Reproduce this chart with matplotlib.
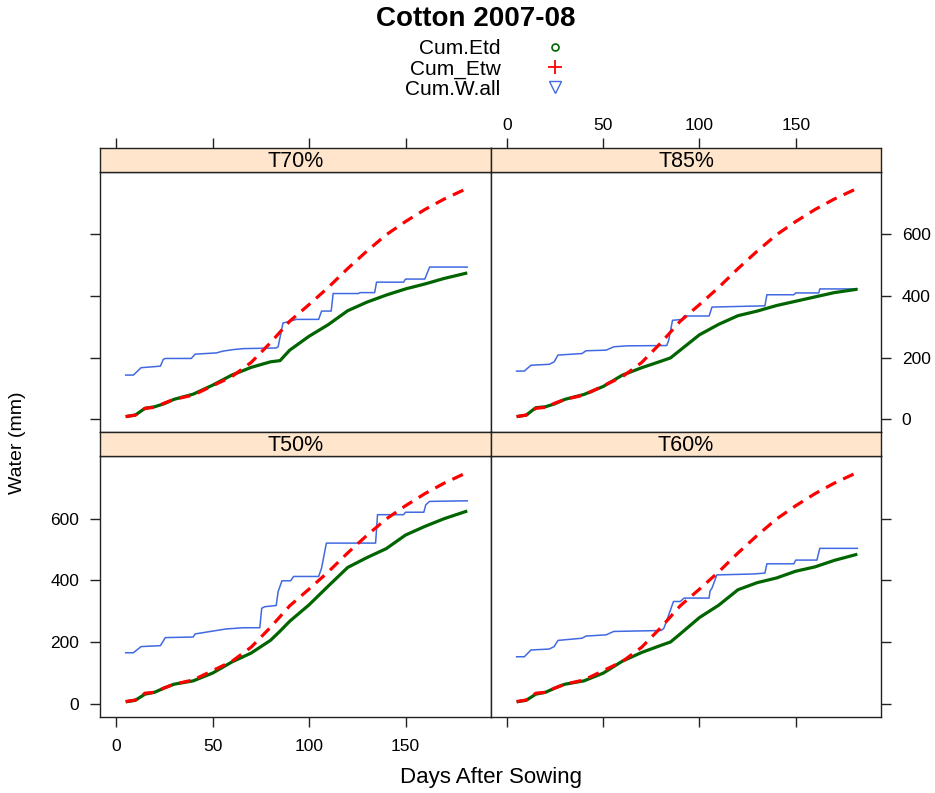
import matplotlib
matplotlib.use("Agg")
import matplotlib.pyplot as plt
from matplotlib.lines import Line2D

# cumulative water for cotton 2007-08, lattice style 2x2 panels, saved to out.png

plt.rcParams["font.family"] = ["Liberation Sans", "DejaVu Sans"]

# days after sowing used for the smooth series
DAYS = [5, 10, 15, 20, 25, 30, 40, 50, 60, 70, 80, 85, 90, 100, 110, 120,
        130, 140, 150, 160, 170, 182]

# Cum_Etw (same in all treatments)
CUM_ETW = [8, 13, 35, 38, 52, 64, 78, 108, 138, 184, 248, 283, 318, 372, 428,
           489, 546, 599, 642, 681, 715, 750]

# Cum.Etd per treatment
ETD_T70 = [8, 13, 35, 40, 50, 64, 81, 110, 143, 168, 186, 190, 224, 269, 307,
           352, 380, 403, 423, 439, 457, 475]
ETD_T85 = [8, 13, 37, 40, 50, 64, 80, 106, 143, 167, 188, 199, 224, 274, 308,
           336, 351, 369, 383, 397, 411, 422]
ETD_T50 = [7, 12, 32, 38, 52, 64, 75, 100, 136, 165, 206, 236, 268, 321, 382,
           442, 474, 503, 547, 575, 600, 625]
ETD_T60 = [7, 12, 32, 38, 52, 64, 75, 100, 139, 167, 190, 201, 227, 280, 320,
           370, 393, 408, 430, 444, 465, 485]

# Cum.W.all (irrigation + rain) per treatment, read at the corners of the steps
WALL_T70_DAYS = [5, 9, 13, 23, 24.5, 25.5, 39, 41, 52, 55.5, 61, 66, 83, 84,
                 86.5, 93.5, 105, 106.5, 111.5, 112.5, 125.5, 126.5, 134, 135,
                 149, 150, 160, 162.5, 182]
WALL_T70 = [143, 143, 167, 172, 194, 197, 197, 211, 215, 221, 226, 229, 231,
            235, 312, 324, 324, 351, 351, 408, 408, 411, 411, 445, 445, 455,
            455, 494, 494]

WALL_T85_DAYS = [5, 9, 12.5, 22, 24.5, 26.5, 39, 41, 51.5, 55.5, 62.5, 83,
                 84, 86, 91, 92, 105, 106.5, 126.5, 134, 135, 149, 150, 162,
                 162.5, 182]
WALL_T85 = [156, 156, 175, 178, 186, 208, 213, 222, 224, 235, 238, 239, 256,
            321, 324, 335, 335, 364, 367, 368, 404, 404, 410, 410, 423, 423]

WALL_T50_DAYS = [5, 9, 13, 23, 24.5, 25.5, 40, 41, 57, 66, 74.5, 75.5, 77, 83,
                 84, 86, 90.5, 92, 105, 106.5, 109, 134.5, 135.5, 149, 150,
                 159.5, 160.5, 162.5, 182]
WALL_T50 = [166, 166, 186, 189, 204, 215, 217, 227, 243, 247, 247, 310, 315,
            319, 364, 399, 399, 413, 413, 440, 521, 521, 613, 613, 621, 621,
            645, 656, 658]

WALL_T60_DAYS = [5, 9, 12.5, 22, 24.5, 26.5, 39, 41, 51.5, 55.5, 80, 81.5, 84,
                 86.5, 90, 92, 105, 105.5, 106.5, 109, 128, 134, 135, 149, 150,
                 161, 162.5, 182]
WALL_T60 = [153, 153, 175, 178, 186, 206, 213, 220, 224, 235, 238, 245, 288,
            332, 332, 343, 343, 366, 375, 418, 421, 424, 454, 454, 466, 466,
            504, 504]

X_TICKS = [0, 50, 100, 150]
Y_TICKS = [0, 200, 400, 600]

# panel order as lattice draws it: top row T70/T85, bottom row T50/T60
PANELS = [
    ("T70%", ETD_T70, WALL_T70_DAYS, WALL_T70),
    ("T85%", ETD_T85, WALL_T85_DAYS, WALL_T85),
    ("T50%", ETD_T50, WALL_T50_DAYS, WALL_T50),
    ("T60%", ETD_T60, WALL_T60_DAYS, WALL_T60),
]

W, H = 935, 793
AXIS_COL = "#222222"
STRIP_COL = "#FFE5CC"
GREEN = "#006400"
RED = "#FF0000"
BLUE = "#4169E1"


def rect(x0, y0, x1, y1):
    """pixel box (top-left origin) -> figure fraction rect"""
    return [x0 / W, 1 - y1 / H, (x1 - x0) / W, (y1 - y0) / H]


def style_axes(ax):
    for sp in ax.spines.values():
        sp.set_color(AXIS_COL)
        sp.set_linewidth(1.0)
    ax.tick_params(colors=AXIS_COL, labelcolor="black", length=7, width=1.0,
                   direction="out", labelsize=12.5)


fig = plt.figure(figsize=(W / 100, H / 100), dpi=100)

cols = [(100, 491), (491, 881)]
rows = [(148, 172, 432), (432, 456, 717)]

for i, (name, etd, wall_days, wall) in enumerate(PANELS):
    r, c = divmod(i, 2)
    x0, x1 = cols[c]
    s0, p0, p1 = rows[r]

    ax = fig.add_axes(rect(x0, p0, x1, p1))
    ax.plot(wall_days, wall, color=BLUE, lw=1.1)
    ax.plot(DAYS, etd, color=GREEN, lw=2.3, solid_capstyle="butt")
    ax.plot(DAYS, CUM_ETW, color=RED, lw=2.3, dashes=(3.6, 2.4))
    ax.set_xlim(-8.3, 194.3)
    ax.set_ylim(-42, 803)
    style_axes(ax)
    ax.set_xticks(X_TICKS)
    ax.set_yticks(Y_TICKS)

    # x axis only on the bottom row, y axis only on the outer sides
    ax.tick_params(axis="x", bottom=(r == 1), top=False,
                   labelbottom=(r == 1 and c == 0), labeltop=False, pad=9)
    ax.tick_params(axis="y", left=(c == 0), right=(c == 1),
                   labelleft=(r == 1 and c == 0),
                   labelright=(r == 0 and c == 1), pad=8)

    # strip with treatment name
    st = fig.add_axes(rect(x0, s0, x1, p0))
    st.set_facecolor(STRIP_COL)
    st.set_xlim(-8.3, 194.3)
    st.set_ylim(0, 1)
    style_axes(st)
    st.set_yticks([])
    st.text(0.5, 0.45, name, transform=st.transAxes, ha="center", va="center",
            fontsize=15.5)
    if r == 0:
        st.set_xticks(X_TICKS)
        st.tick_params(axis="x", bottom=False, top=True, labelbottom=False,
                       labeltop=(c == 1), pad=4)
    else:
        st.set_xticks([])

# title and key
fig.text(476 / W, 1 - 19 / H, "Cotton 2007-08", ha="center", va="center",
         fontsize=20, fontweight="bold")

handles = [
    Line2D([], [], ls="none", marker="o", ms=5, mfc="none", mec=GREEN, mew=1.2),
    Line2D([], [], ls="none", marker="+", ms=10, color=RED, mew=1.3),
    Line2D([], [], ls="none", marker="v", ms=9, mfc="none", mec=BLUE, mew=1.0),
]
fig.legend(handles, ["Cum.Etd", "Cum_Etw", "Cum.W.all"], markerfirst=False,
           loc="upper center", bbox_to_anchor=(484 / W, 1 - 29 / H),
           frameon=False, fontsize=15, labelspacing=0.05, handletextpad=2.2,
           handlelength=0.8, borderpad=0)

fig.text(491 / W, 1 - 778 / H, "Days After Sowing", ha="center", va="center",
         fontsize=16)
fig.text(18 / W, 1 - 443 / H, "Water (mm)", ha="center", va="center",
         rotation=90, fontsize=14)

fig.savefig("out.png", dpi=100)
